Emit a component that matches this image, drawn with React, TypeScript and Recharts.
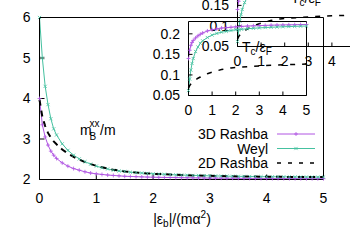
import { LineChart, Line, XAxis, YAxis } from "recharts";

// main panel: effective mass vs |eps_b|/(m alpha^2)
const epsB = [
  0, 0.05, 0.1, 0.15, 0.2, 0.25, 0.3, 0.4, 0.5, 0.6, 0.7, 0.8, 0.9, 1.0, 1.1, 1.2, 1.3, 1.4, 1.5, 1.6, 1.7,
  1.8, 1.9, 2.0, 2.1, 2.2, 2.3, 2.4, 2.5, 2.6, 2.7, 2.8, 2.9, 3.0, 3.1, 3.2, 3.3, 3.4, 3.5, 3.6, 3.7, 3.8,
  3.9, 4.0, 4.1, 4.2, 4.3, 4.4, 4.5, 4.6, 4.7, 4.8, 4.9, 5.0,
];
const mass3DRashba = [
  4.0, 3.35, 3.05, 2.85, 2.7, 2.6, 2.52, 2.41, 2.33, 2.27, 2.23, 2.19, 2.16, 2.14, 2.125, 2.11, 2.1, 2.09,
  2.08, 2.075, 2.07, 2.065, 2.06, 2.057, 2.054, 2.051, 2.049, 2.047, 2.045, 2.043, 2.041, 2.039, 2.037,
  2.035, 2.034, 2.033, 2.032, 2.031, 2.03, 2.029, 2.028, 2.027, 2.026, 2.025, 2.024, 2.024, 2.023, 2.023,
  2.022, 2.022, 2.021, 2.021, 2.02, 2.02,
];
const massWeyl = [
  6.0, 5.0, 4.3, 3.85, 3.5, 3.25, 3.1, 2.88, 2.72, 2.6, 2.51, 2.44, 2.38, 2.33, 2.29, 2.26, 2.23, 2.21, 2.2,
  2.18, 2.17, 2.16, 2.15, 2.14, 2.135, 2.13, 2.12, 2.115, 2.11, 2.105, 2.1, 2.1, 2.095, 2.09, 2.088, 2.085,
  2.082, 2.08, 2.078, 2.076, 2.074, 2.072, 2.07, 2.069, 2.068, 2.067, 2.066, 2.065, 2.064, 2.063, 2.062,
  2.061, 2.06, 2.06,
];
const mass2DRashba = [
  3.97, 3.55, 3.32, 3.15, 3.03, 2.94, 2.87, 2.74, 2.64, 2.56, 2.49, 2.43, 2.38, 2.34, 2.3, 2.27, 2.24, 2.22,
  2.2, 2.185, 2.17, 2.16, 2.15, 2.14, 2.135, 2.13, 2.122, 2.116, 2.11, 2.105, 2.1, 2.097, 2.094, 2.09, 2.087,
  2.084, 2.081, 2.079, 2.077, 2.075, 2.073, 2.071, 2.069, 2.068, 2.067, 2.066, 2.065, 2.064, 2.063, 2.062,
  2.061, 2.06, 2.06, 2.059,
];

// inset: Tc/eF vs |eps_b|/(m alpha^2)
const insetEps = [
  0, 0.05, 0.1, 0.15, 0.2, 0.3, 0.4, 0.5, 0.6, 0.8, 1.0, 1.2, 1.4, 1.6, 1.8, 2.0, 2.25, 2.5, 2.75, 3.0, 3.25,
  3.5, 3.75, 4.0, 4.25, 4.5, 4.75, 5.0,
];
const tc3DRashba = [
  0.14, 0.16, 0.172, 0.179, 0.184, 0.19, 0.195, 0.199, 0.202, 0.207, 0.21, 0.212, 0.214, 0.215, 0.216, 0.217,
  0.218, 0.219, 0.2195, 0.22, 0.2205, 0.221, 0.2213, 0.2216, 0.2219, 0.2222, 0.2225, 0.2227,
];
const tcWeyl = [
  0.062, 0.09, 0.112, 0.128, 0.14, 0.157, 0.168, 0.177, 0.183, 0.191, 0.197, 0.201, 0.204, 0.206, 0.208, 0.21,
  0.211, 0.2125, 0.2135, 0.2145, 0.2153, 0.216, 0.2166, 0.2172, 0.2177, 0.2182, 0.2186, 0.219,
];
const tc2DRashba = [
  0.068, 0.074, 0.078, 0.081, 0.084, 0.088, 0.092, 0.095, 0.098, 0.103, 0.107, 0.11, 0.113, 0.115, 0.117,
  0.118, 0.119, 0.12, 0.121, 0.122, 0.123, 0.1235, 0.124, 0.1245, 0.125, 0.1255, 0.126, 0.1265,
];

const seriesNames = ["3D Rashba", "Weyl", "2D Rashba"];
const mainXTicks = [0, 1, 2, 3, 4, 5];
const mainYTicks = [2, 3, 4, 5, 6];
const insetXTicks = [0, 1, 2, 3, 4, 5];
const insetYTicks = [0.05, 0.1, 0.15, 0.2];

const PURPLE = "#b055e2";
const GREEN = "#45c1a0";
const FONT = "'Liberation Sans', Arial, Helvetica, sans-serif";

const mainData = epsB.map((x, i) => ({
  x,
  r3: mass3DRashba[i],
  weyl: massWeyl[i],
  r2: mass2DRashba[i],
}));

const insetData = insetEps.map((x, i) => ({
  x,
  r3: tc3DRashba[i],
  weyl: tcWeyl[i],
  r2: tc2DRashba[i],
}));

const tickStyle = { fill: "#000", fontSize: 14, fontFamily: FONT };

// gnuplot style point markers
const plusDot = (color: string, r: number) => (props: any) => {
  const { cx, cy, index } = props;
  if (cx == null || cy == null) return <g key={`p-${index}`} />;
  return (
    <path
      key={`p-${index}`}
      d={`M${cx - r},${cy}H${cx + r}M${cx},${cy - r}V${cy + r}`}
      stroke={color}
      strokeWidth={0.8}
      fill="none"
    />
  );
};

const crossDot = (color: string, r: number) => (props: any) => {
  const { cx, cy, index } = props;
  if (cx == null || cy == null) return <g key={`x-${index}`} />;
  return (
    <path
      key={`x-${index}`}
      d={`M${cx - r},${cy - r}L${cx + r},${cy + r}M${cx - r},${cy + r}L${cx + r},${cy - r}`}
      stroke={color}
      strokeWidth={0.8}
      fill="none"
    />
  );
};

function TcInset({ left, top }: { left: number; top: number }) {
  return (
    <div style={{ position: "absolute", left, top, width: 170, height: 135 }}>
      <LineChart
        width={170}
        height={135}
        data={insetData}
        margin={{ top: 20.5, right: 10.5, bottom: 14.5, left: 0.5 }}
      >
        <XAxis
          xAxisId="b"
          dataKey="x"
          type="number"
          domain={[0, 5]}
          ticks={insetXTicks}
          interval={0}
          height={25}
          tickSize={-4}
          tickMargin={13.5}
          stroke="#000"
          tick={tickStyle}
        />
        <XAxis
          xAxisId="t"
          orientation="top"
          dataKey="x"
          type="number"
          domain={[0, 5]}
          ticks={insetXTicks}
          interval={0}
          height={1}
          tickSize={-4}
          stroke="#000"
          tick={false}
        />
        <YAxis
          yAxisId="l"
          type="number"
          domain={[0.05, 0.23]}
          ticks={insetYTicks}
          interval={0}
          width={40}
          tickSize={-4}
          tickMargin={12.5}
          stroke="#000"
          tick={tickStyle}
        />
        <YAxis
          yAxisId="r"
          orientation="right"
          type="number"
          domain={[0.05, 0.23]}
          ticks={insetYTicks}
          interval={0}
          width={1}
          tickSize={-4}
          stroke="#000"
          tick={false}
        />
        <Line xAxisId="b" yAxisId="l" type="linear" dataKey="r3" stroke={PURPLE} strokeWidth={1}
          dot={plusDot(PURPLE, 2)} activeDot={false} isAnimationActive={false} />
        <Line xAxisId="b" yAxisId="l" type="linear" dataKey="weyl" stroke={GREEN} strokeWidth={1}
          dot={crossDot(GREEN, 1.6)} activeDot={false} isAnimationActive={false} />
        <Line xAxisId="b" yAxisId="l" type="linear" dataKey="r2" stroke="#000" strokeWidth={1.5}
          strokeDasharray="5 7" dot={false} activeDot={false} isAnimationActive={false} />
      </LineChart>
      <svg width={170} height={135} style={{ position: "absolute", left: 0, top: 0, pointerEvents: "none" }}>
        <text x={94} y={52} fontSize={14} fontFamily={FONT} fill="#000">
          T<tspan fontSize={10} dy={3}>c</tspan>
          <tspan dy={-3}>/ε</tspan>
          <tspan fontSize={10} dy={3}>F</tspan>
        </text>
      </svg>
    </div>
  );
}

export default function App() {
  const legendRows = [
    { name: seriesNames[0], color: PURPLE, dash: undefined, marker: "plus" },
    { name: seriesNames[1], color: GREEN, dash: undefined, marker: "cross" },
    { name: seriesNames[2], color: "#000", dash: "4 7", marker: "" },
  ];

  return (
    <div
      style={{
        position: "fixed",
        left: 0,
        top: 0,
        width: 350,
        height: 245,
        overflow: "hidden",
        background: "#fff",
      }}
    >
      <div style={{ position: "absolute", left: 0, top: 0 }}>
        <LineChart
          width={350}
          height={245}
          data={mainData}
          margin={{ top: 16.5, right: 25.5, bottom: 35.5, left: 0.5 }}
        >
          <XAxis
            xAxisId="b"
            dataKey="x"
            type="number"
            domain={[0, 5]}
            ticks={mainXTicks}
            interval={0}
            height={30}
            tickSize={-5}
            tickMargin={19}
            stroke="#000"
            tick={tickStyle}
          />
          <XAxis
            xAxisId="t"
            orientation="top"
            dataKey="x"
            type="number"
            domain={[0, 5]}
            ticks={mainXTicks}
            interval={0}
            height={1}
            tickSize={-5}
            stroke="#000"
            tick={false}
          />
          <YAxis
            yAxisId="l"
            type="number"
            domain={[2, 6]}
            ticks={mainYTicks}
            interval={0}
            width={39}
            tickSize={-5}
            tickMargin={14}
            stroke="#000"
            tick={tickStyle}
          />
          <YAxis
            yAxisId="r"
            orientation="right"
            type="number"
            domain={[2, 6]}
            ticks={mainYTicks}
            interval={0}
            width={1}
            tickSize={-5}
            stroke="#000"
            tick={false}
          />
          <Line xAxisId="b" yAxisId="l" type="linear" dataKey="r3" name={seriesNames[0]} stroke={PURPLE}
            strokeWidth={1} dot={plusDot(PURPLE, 2)} activeDot={false} isAnimationActive={false} />
          <Line xAxisId="b" yAxisId="l" type="linear" dataKey="weyl" name={seriesNames[1]} stroke={GREEN}
            strokeWidth={1} dot={crossDot(GREEN, 1.6)} activeDot={false} isAnimationActive={false} />
          <Line xAxisId="b" yAxisId="l" type="linear" dataKey="r2" name={seriesNames[2]} stroke="#000"
            strokeWidth={2} strokeDasharray="6 5" dot={false} activeDot={false} isAnimationActive={false} />
        </LineChart>
      </div>

      <TcInset left={197} top={-49} />
      <TcInset left={148} top={0} />

      <svg
        width={350}
        height={245}
        style={{ position: "absolute", left: 0, top: 0, pointerEvents: "none" }}
        fontFamily={FONT}
      >
        {/* y label inside the plot */}
        <text x={80} y={135} fontSize={14} fill="#000">m</text>
        <text x={89.5} y={127} fontSize={10} fill="#000">xx</text>
        <text x={89.5} y={139.5} fontSize={10} fill="#000">B</text>
        <text x={100} y={135} fontSize={14} fill="#000">/m</text>

        {/* x axis label */}
        <text x={182} y={224} fontSize={14} fill="#000" textAnchor="middle">
          |ε<tspan fontSize={10} dy={3}>b</tspan>
          <tspan dy={-3}>|/(mα</tspan>
          <tspan fontSize={10} dy={-6}>2</tspan>
          <tspan dy={6}>)</tspan>
        </text>

        {/* legend */}
        {legendRows.map((row, i) => {
          const cy = 134 + i * 14.5;
          return (
            <g key={row.name}>
              <text x={268} y={cy + 5} fontSize={14} fill="#000" textAnchor="end">
                {row.name}
              </text>
              <line x1={277} x2={315} y1={cy} y2={cy} stroke={row.color}
                strokeWidth={row.dash ? 1.5 : 1} strokeDasharray={row.dash} />
              {row.marker === "plus" && plusDot(row.color, 2)({ cx: 296, cy, index: i })}
              {row.marker === "cross" && crossDot(row.color, 1.6)({ cx: 296, cy, index: i })}
            </g>
          );
        })}
      </svg>
    </div>
  );
}
